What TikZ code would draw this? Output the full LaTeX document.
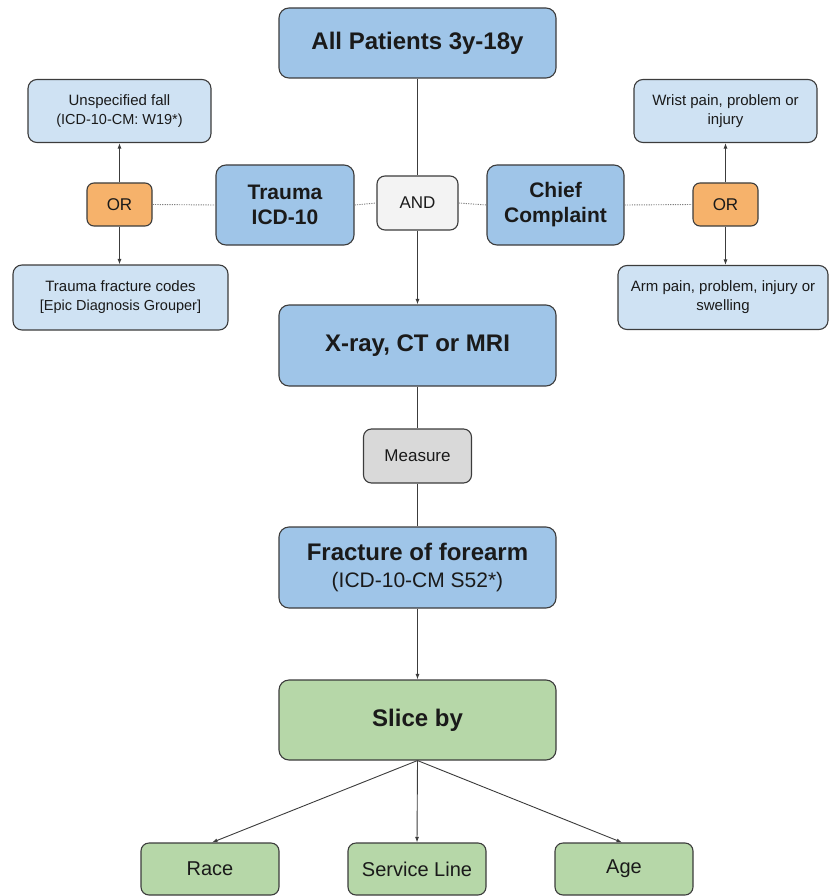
\documentclass[tikz,border=0pt]{standalone}
\usepackage{fontspec}
\setmainfont{Liberation Sans}
\usetikzlibrary{arrows.meta}
\definecolor{bluebox}{HTML}{9FC5E8}
\definecolor{lightblue}{HTML}{CFE2F3}
\definecolor{orangebox}{HTML}{F6B26B}
\definecolor{greenbox}{HTML}{B6D7A8}
\definecolor{andgray}{HTML}{F3F3F3}
\definecolor{measgray}{HTML}{D9D9D9}
\definecolor{edgegray}{HTML}{3C3C3C}
\definecolor{txt}{HTML}{1A1A1A}
\tikzset{
  box/.style={draw=edgegray, line width=1.1pt, rectangle, rounded corners=10pt, inner sep=0pt, align=center, text=txt},
  mainbox/.style={box, fill=bluebox, minimum width=277pt, minimum height=80pt, font=\fontsize{24}{28}\selectfont\bfseries},
  midbox/.style={box, fill=bluebox, minimum width=138pt, minimum height=80pt, font=\fontsize{21}{25}\selectfont\bfseries},
  infobox/.style={box, fill=lightblue, rounded corners=9pt, minimum height=63pt, font=\fontsize{15}{19}\selectfont},
  orbox/.style={box, fill=orangebox, rounded corners=7pt, minimum width=65pt, minimum height=43pt, font=\fontsize{17}{20}\selectfont},
  greenbig/.style={box, fill=greenbox, minimum width=277pt, minimum height=80pt, font=\fontsize{24}{28}\selectfont\bfseries},
  greensmall/.style={box, fill=greenbox, rounded corners=8pt, minimum width=138pt, minimum height=52pt, font=\fontsize{20}{24}\selectfont},
  conn/.style={draw=edgegray, line width=0.9pt},
  arr/.style={conn, -{Latex[length=5.5pt,width=4pt]}},
  dotline/.style={draw=gray, line width=0.9pt, dash pattern=on 1.2pt off 1.2pt},
}
\begin{document}
\begin{tikzpicture}[x=1pt,y=-1pt]
\useasboundingbox (0,0) rectangle (828,896);
% main column
\node[mainbox, minimum height=70pt] (allp) at (417.5,43) {All Patients 3y-18y};
\node[box, fill=andgray, rounded corners=8pt, minimum width=81pt, minimum height=54pt, font=\fontsize{17}{20}\selectfont] (and) at (417.5,203) {AND};
\node[mainbox, minimum height=81pt] (xray) at (417.5,345.5) {X-ray, CT or MRI};
\node[box, fill=measgray, rounded corners=8pt, minimum width=108pt, minimum height=54pt, font=\fontsize{17}{20}\selectfont] (meas) at (417.5,456) {Measure};
\node[mainbox, minimum height=81pt] (fract) at (417.5,567.5) {Fracture of forearm\\[-1pt]{\fontsize{21}{25}\selectfont\mdseries (ICD-10-CM S52*)}};
\node[greenbig] (slice) at (417.5,720) {Slice by};
\node[greensmall] (race) at (210,869) {Race};
\node[greensmall] (serv) at (417,869) {Service Line};
\node[greensmall] (age) at (624,869) {Age};
% left side
\node[midbox] (trauma) at (285,205) {Trauma\\ICD-10};
\node[orbox] (orl) at (119.5,204.5) {OR};
\node[infobox, minimum width=183pt] (unsp) at (119.5,111) {\raisebox{-2pt}{Unspecified fall}\\\raisebox{-2pt}{\fontsize{14.5}{19}\selectfont(ICD-10-CM: W19*)}};
\node[infobox, minimum width=215pt, minimum height=65pt] (tfc) at (120.5,297.5) {\raisebox{-2pt}{Trauma fracture codes}\\\raisebox{-2pt}{\fontsize{14.5}{19}\selectfont[Epic Diagnosis Grouper]}};
% right side
\node[midbox, minimum width=137pt] (chief) at (555.5,205) {Chief\\Complaint};
\node[orbox] (orr) at (725.5,204.5) {OR};
\node[infobox, minimum width=183pt] (wrist) at (725.5,111) {\raisebox{-2pt}{Wrist pain, problem or}\\\raisebox{-2pt}{injury}};
\node[infobox, minimum width=210pt, minimum height=64pt] (arm) at (723,297.5) {\raisebox{-2pt}{Arm pain, problem, injury or}\\\raisebox{-2pt}{swelling}};
% connectors
\draw[conn] (allp.south) -- (and.north);
\draw[arr] (and.south) -- (xray.north);
\draw[conn] (xray.south) -- (meas.north);
\draw[conn] (meas.south) -- (fract.north);
\draw[arr] (fract.south) -- (slice.north);
\draw[arr] (slice.south) -- ([xshift=2pt]race.north);
\draw[arr] (slice.south) -- (serv.north);
\draw[arr] (slice.south) -- ([xshift=-2pt]age.north);
\draw[dotline] (orl.east) -- (trauma.west);
\draw[dotline] (trauma.east) -- (and.west);
\draw[dotline] (and.east) -- (chief.west);
\draw[dotline] (chief.east) -- (orr.west);
\draw[arr] (orl.north) -- (unsp.south);
\draw[arr] (orl.south) -- (orl.south |- tfc.north);
\draw[arr] (orr.north) -- (orr.north |- wrist.south);
\draw[arr] (orr.south) -- (orr.south |- arm.north);
\end{tikzpicture}
\end{document}
